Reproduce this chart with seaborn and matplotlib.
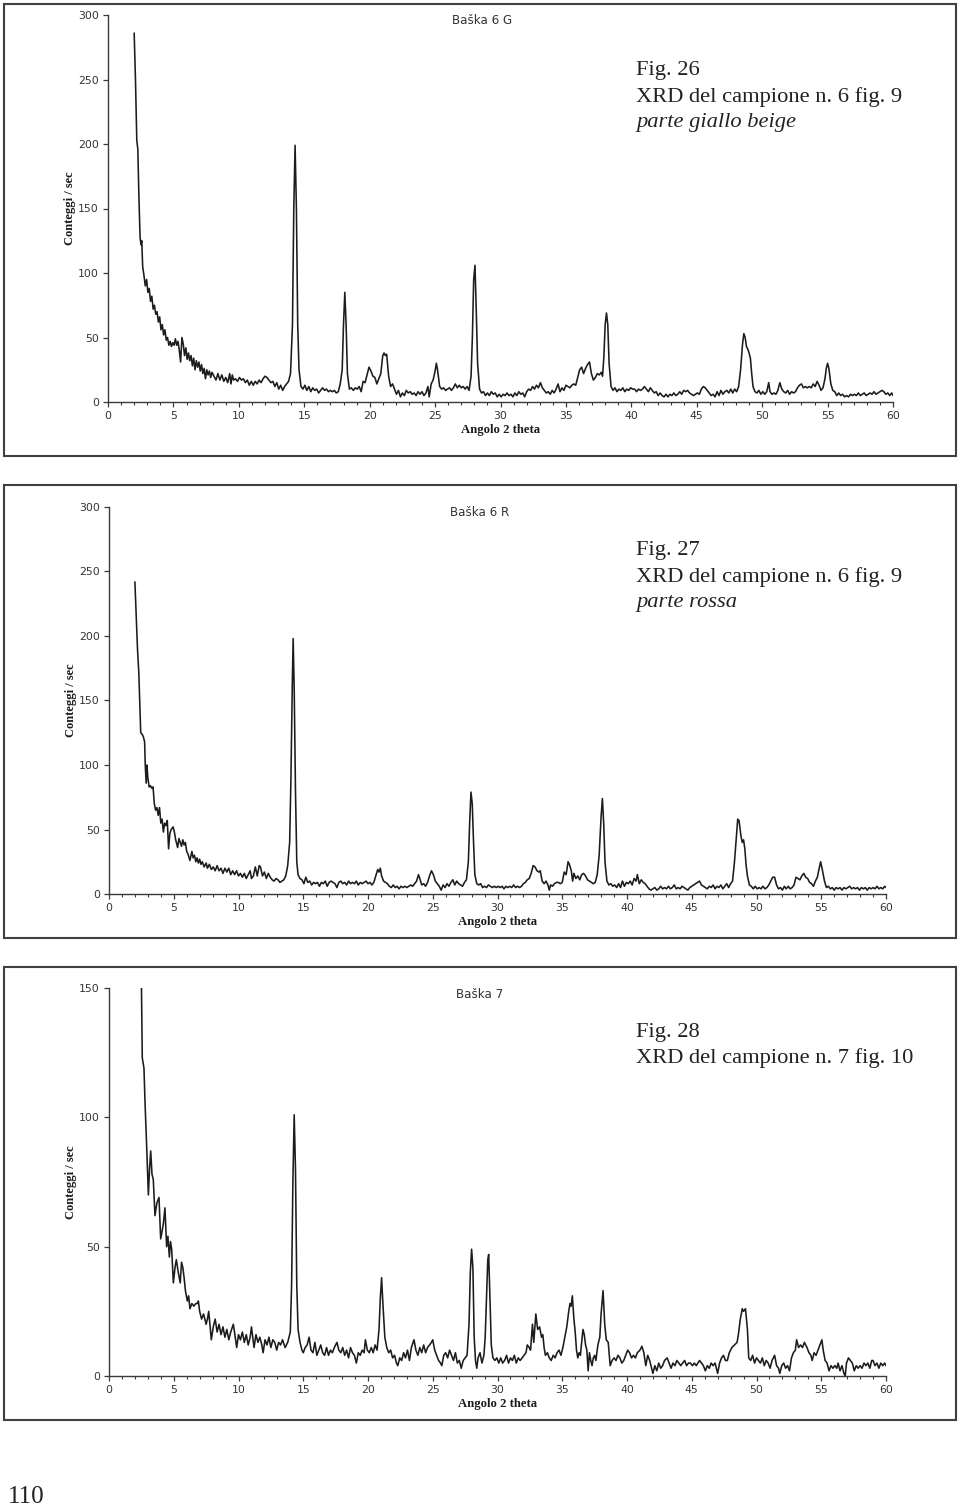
import matplotlib
matplotlib.use("Agg")
import matplotlib.pyplot as plt
from matplotlib.patches import Rectangle
from matplotlib.ticker import MultipleLocator
import pandas as pd
import seaborn as sns

# ---------------- data (angle 2theta, counts/sec) ----------------
BASKA_6G = [
    (2.00, 286), (2.10, 250), (2.20, 203), (2.28, 196), (2.36, 160), (2.45, 128), (2.52, 122), (2.58, 125),
    (2.65, 105), (2.75, 98), (2.85, 90), (2.95, 95), (3.05, 85), (3.15, 88), (3.25, 78), (3.35, 82),
    (3.45, 72), (3.55, 75), (3.65, 68), (3.75, 70), (3.85, 62), (3.95, 66), (4.05, 56), (4.15, 60),
    (4.25, 52), (4.35, 56), (4.45, 48), (4.55, 50), (4.65, 44), (4.75, 47), (4.85, 43), (4.95, 46),
    (5.05, 44), (5.15, 49), (5.25, 44), (5.35, 47), (5.45, 40), (5.55, 31), (5.65, 50), (5.75, 45),
    (5.85, 36), (5.95, 42), (6.05, 33), (6.15, 38), (6.25, 32), (6.35, 36), (6.45, 28), (6.55, 34),
    (6.65, 25), (6.75, 32), (6.85, 27), (6.95, 31), (7.05, 24), (7.15, 29), (7.25, 22), (7.35, 26),
    (7.45, 18), (7.55, 25), (7.65, 21), (7.75, 24), (7.85, 19), (7.95, 23), (8.1, 20), (8.25, 17),
    (8.4, 22), (8.55, 17), (8.7, 21), (8.85, 16), (9.0, 19), (9.15, 15), (9.3, 22), (9.4, 14),
    (9.5, 21), (9.6, 17), (9.75, 18), (9.9, 16), (10.05, 19), (10.2, 17), (10.35, 18), (10.5, 15),
    (10.65, 17), (10.8, 13), (10.95, 16), (11.1, 13), (11.25, 16), (11.4, 14), (11.55, 17), (11.7, 15),
    (11.85, 18), (12.0, 20), (12.15, 19), (12.3, 17), (12.45, 15), (12.6, 16), (12.75, 12), (12.9, 15),
    (13.05, 10), (13.2, 13), (13.35, 9), (13.5, 12), (13.65, 14), (13.8, 16), (13.95, 22), (14.1, 60),
    (14.2, 150), (14.3, 199), (14.4, 150), (14.5, 60), (14.6, 25), (14.75, 12), (14.9, 10), (15.05, 13),
    (15.2, 9), (15.35, 12), (15.5, 8), (15.65, 11), (15.8, 9), (15.95, 10), (16.1, 7), (16.25, 9),
    (16.4, 11), (16.55, 9), (16.7, 10), (16.85, 8), (17.0, 9), (17.15, 8), (17.3, 9), (17.45, 7),
    (17.6, 8), (17.75, 14), (17.9, 25), (18.0, 60), (18.1, 85), (18.2, 60), (18.3, 22), (18.45, 10),
    (18.6, 11), (18.75, 9), (18.9, 11), (19.05, 10), (19.2, 12), (19.35, 8), (19.5, 16), (19.65, 15),
    (19.8, 21), (19.95, 27), (20.1, 24), (20.25, 20), (20.4, 19), (20.55, 14), (20.7, 18), (20.85, 22),
    (21.0, 36), (21.1, 38), (21.2, 36), (21.3, 37), (21.45, 20), (21.6, 12), (21.75, 14), (21.9, 10),
    (22.05, 6), (22.2, 9), (22.35, 4), (22.5, 7), (22.65, 5), (22.8, 9), (22.95, 7), (23.1, 8),
    (23.25, 6), (23.4, 7), (23.55, 5), (23.7, 8), (23.85, 6), (24.0, 8), (24.15, 5), (24.3, 7),
    (24.45, 12), (24.55, 4), (24.7, 14), (24.85, 17), (25.0, 24), (25.1, 30), (25.2, 24), (25.35, 12),
    (25.5, 10), (25.65, 11), (25.8, 9), (25.95, 10), (26.1, 11), (26.25, 9), (26.4, 11), (26.55, 14),
    (26.7, 11), (26.85, 13), (27.0, 11), (27.15, 12), (27.3, 10), (27.45, 12), (27.6, 9), (27.75, 20),
    (27.85, 50), (27.95, 95), (28.05, 106), (28.15, 70), (28.25, 30), (28.4, 10), (28.55, 7), (28.7, 8),
    (28.85, 5), (29.0, 7), (29.15, 5), (29.3, 8), (29.45, 6), (29.6, 7), (29.75, 4), (29.9, 6),
    (30.05, 4), (30.2, 6), (30.35, 5), (30.5, 7), (30.65, 5), (30.8, 6), (30.95, 4), (31.1, 7),
    (31.25, 5), (31.4, 8), (31.55, 6), (31.7, 7), (31.85, 4), (32.0, 8), (32.15, 10), (32.3, 9),
    (32.45, 12), (32.6, 10), (32.75, 13), (32.9, 11), (33.05, 15), (33.2, 11), (33.35, 9), (33.5, 7),
    (33.65, 8), (33.8, 6), (33.95, 9), (34.1, 7), (34.25, 10), (34.4, 14), (34.55, 8), (34.7, 11),
    (34.85, 9), (35.0, 13), (35.15, 12), (35.3, 11), (35.45, 13), (35.6, 14), (35.75, 13), (35.9, 19),
    (36.05, 25), (36.2, 27), (36.35, 22), (36.5, 26), (36.65, 29), (36.8, 31), (36.95, 22), (37.1, 17),
    (37.25, 19), (37.4, 22), (37.55, 21), (37.7, 23), (37.8, 20), (37.9, 35), (38.0, 60), (38.1, 69),
    (38.2, 60), (38.3, 30), (38.45, 12), (38.6, 9), (38.75, 11), (38.9, 8), (39.05, 10), (39.2, 9),
    (39.35, 11), (39.5, 8), (39.65, 10), (39.8, 9), (39.95, 11), (40.1, 10), (40.25, 10), (40.4, 8),
    (40.55, 10), (40.7, 9), (40.85, 10), (41.0, 12), (41.15, 10), (41.3, 8), (41.45, 11), (41.6, 9),
    (41.75, 7), (41.9, 8), (42.05, 5), (42.2, 7), (42.35, 5), (42.5, 4), (42.65, 6), (42.8, 4),
    (42.95, 6), (43.1, 5), (43.25, 7), (43.4, 5), (43.55, 6), (43.7, 8), (43.85, 6), (44.0, 9),
    (44.15, 8), (44.3, 9), (44.45, 7), (44.6, 6), (44.75, 5), (44.9, 6), (45.05, 7), (45.2, 6),
    (45.35, 10), (45.5, 12), (45.65, 11), (45.8, 9), (45.95, 7), (46.1, 5), (46.25, 6), (46.4, 4),
    (46.55, 8), (46.7, 5), (46.85, 9), (47.0, 6), (47.15, 8), (47.3, 9), (47.45, 7), (47.6, 10),
    (47.75, 7), (47.9, 10), (48.05, 8), (48.2, 12), (48.35, 25), (48.5, 45), (48.6, 53), (48.7, 50),
    (48.8, 43), (48.9, 41), (49.0, 38), (49.1, 34), (49.2, 22), (49.3, 12), (49.45, 8), (49.6, 7),
    (49.75, 9), (49.9, 6), (50.05, 8), (50.2, 6), (50.35, 8), (50.5, 15), (50.6, 8), (50.75, 6),
    (50.9, 7), (51.05, 6), (51.2, 9), (51.35, 15), (51.5, 10), (51.65, 8), (51.8, 7), (51.95, 9),
    (52.1, 6), (52.25, 8), (52.4, 7), (52.55, 8), (52.7, 11), (52.85, 13), (53.0, 14), (53.15, 11),
    (53.3, 12), (53.45, 11), (53.6, 12), (53.75, 11), (53.9, 14), (54.05, 12), (54.2, 16), (54.35, 13),
    (54.5, 9), (54.65, 11), (54.8, 18), (54.9, 26), (55.0, 30), (55.1, 26), (55.25, 14), (55.4, 9),
    (55.55, 8), (55.7, 5), (55.85, 7), (56.0, 5), (56.15, 6), (56.3, 4), (56.45, 5), (56.6, 4),
    (56.75, 6), (56.9, 5), (57.05, 6), (57.2, 5), (57.35, 7), (57.5, 5), (57.65, 6), (57.8, 7),
    (57.95, 5), (58.1, 6), (58.25, 7), (58.4, 6), (58.55, 8), (58.7, 6), (58.85, 7), (59.0, 8),
    (59.15, 9), (59.3, 8), (59.45, 6), (59.6, 7), (59.75, 5), (59.9, 7), (60.0, 5),
]

BASKA_6R = [
    (2.0, 242), (2.1, 215), (2.2, 190), (2.3, 172), (2.4, 140), (2.45, 125), (2.55, 124), (2.65, 122),
    (2.75, 118), (2.8, 100), (2.87, 86), (2.93, 100), (3.0, 90), (3.1, 83), (3.2, 84), (3.3, 82),
    (3.4, 83), (3.5, 70), (3.6, 65), (3.7, 67), (3.8, 61), (3.9, 67), (4.0, 55), (4.1, 58),
    (4.2, 48), (4.3, 55), (4.4, 53), (4.5, 57), (4.6, 35), (4.7, 47), (4.8, 50), (4.95, 52),
    (5.05, 48), (5.15, 42), (5.3, 36), (5.4, 43), (5.5, 40), (5.6, 37), (5.7, 42), (5.8, 38),
    (5.9, 40), (6.0, 33), (6.1, 31), (6.25, 26), (6.4, 33), (6.5, 28), (6.6, 30), (6.7, 25),
    (6.8, 28), (6.9, 24), (7.0, 27), (7.1, 23), (7.2, 25), (7.35, 21), (7.5, 24), (7.6, 20),
    (7.75, 23), (7.9, 19), (8.05, 21), (8.2, 18), (8.35, 22), (8.5, 18), (8.65, 20), (8.8, 16),
    (8.95, 20), (9.1, 17), (9.25, 20), (9.4, 15), (9.55, 18), (9.7, 15), (9.85, 18), (10.0, 14),
    (10.15, 16), (10.3, 13), (10.45, 16), (10.6, 12), (10.75, 15), (10.9, 18), (11.0, 12), (11.15, 14),
    (11.3, 21), (11.45, 14), (11.6, 22), (11.7, 21), (11.85, 14), (12.0, 17), (12.15, 12), (12.3, 16),
    (12.45, 13), (12.6, 11), (12.75, 10), (12.9, 12), (13.05, 11), (13.2, 9), (13.35, 10), (13.5, 11),
    (13.65, 14), (13.8, 22), (13.95, 40), (14.05, 90), (14.15, 160), (14.22, 198), (14.3, 160), (14.4, 80),
    (14.5, 25), (14.6, 15), (14.75, 12), (14.9, 11), (15.05, 8), (15.2, 13), (15.35, 9), (15.5, 10),
    (15.65, 7), (15.8, 9), (15.95, 8), (16.1, 9), (16.25, 6), (16.4, 9), (16.55, 8), (16.7, 10),
    (16.85, 6), (17.0, 9), (17.15, 10), (17.3, 9), (17.45, 8), (17.6, 5), (17.75, 9), (17.9, 10),
    (18.05, 8), (18.2, 9), (18.35, 7), (18.5, 10), (18.65, 8), (18.8, 9), (18.95, 8), (19.1, 10),
    (19.25, 7), (19.4, 9), (19.55, 8), (19.7, 9), (19.85, 10), (20.0, 8), (20.15, 9), (20.3, 7),
    (20.45, 9), (20.6, 14), (20.75, 19), (20.85, 17), (20.95, 20), (21.05, 14), (21.2, 10), (21.35, 9),
    (21.5, 8), (21.65, 6), (21.8, 5), (21.95, 7), (22.1, 5), (22.25, 6), (22.4, 4), (22.55, 6),
    (22.7, 5), (22.85, 6), (23.0, 5), (23.15, 6), (23.3, 7), (23.45, 6), (23.6, 8), (23.75, 10),
    (23.9, 15), (24.0, 12), (24.15, 7), (24.3, 8), (24.45, 6), (24.6, 9), (24.75, 14), (24.9, 18),
    (25.05, 15), (25.2, 10), (25.35, 8), (25.5, 6), (25.65, 3), (25.8, 7), (25.95, 5), (26.1, 8),
    (26.25, 6), (26.4, 9), (26.55, 11), (26.7, 7), (26.85, 10), (27.0, 8), (27.15, 7), (27.3, 6),
    (27.45, 9), (27.6, 11), (27.75, 25), (27.85, 55), (27.95, 79), (28.05, 70), (28.15, 40), (28.25, 15),
    (28.4, 8), (28.55, 7), (28.7, 8), (28.85, 5), (29.0, 6), (29.15, 5), (29.3, 7), (29.45, 6),
    (29.6, 5), (29.75, 6), (29.9, 5), (30.05, 6), (30.2, 5), (30.35, 6), (30.5, 4), (30.65, 6),
    (30.8, 5), (30.95, 6), (31.1, 5), (31.25, 7), (31.4, 5), (31.55, 6), (31.7, 5), (31.85, 6),
    (32.0, 8), (32.15, 9), (32.3, 11), (32.45, 12), (32.6, 16), (32.75, 22), (32.9, 21), (33.05, 18),
    (33.2, 17), (33.3, 18), (33.45, 10), (33.6, 8), (33.75, 10), (33.9, 7), (34.0, 3), (34.1, 7),
    (34.25, 6), (34.4, 8), (34.55, 9), (34.7, 9), (34.85, 8), (35.0, 9), (35.15, 17), (35.3, 15),
    (35.45, 25), (35.55, 23), (35.7, 18), (35.8, 10), (35.9, 16), (36.05, 12), (36.2, 14), (36.35, 11),
    (36.5, 15), (36.65, 16), (36.8, 14), (36.95, 11), (37.1, 10), (37.25, 9), (37.4, 8), (37.55, 9),
    (37.7, 15), (37.85, 30), (38.0, 60), (38.1, 74), (38.2, 55), (38.3, 25), (38.45, 10), (38.6, 7),
    (38.75, 8), (38.9, 6), (39.05, 7), (39.2, 5), (39.35, 8), (39.5, 5), (39.65, 10), (39.8, 6),
    (39.95, 9), (40.1, 8), (40.25, 10), (40.4, 7), (40.55, 12), (40.7, 10), (40.8, 15), (40.95, 8),
    (41.1, 11), (41.25, 9), (41.4, 8), (41.55, 6), (41.7, 4), (41.85, 3), (42.0, 4), (42.15, 5),
    (42.3, 3), (42.45, 4), (42.6, 6), (42.75, 4), (42.9, 5), (43.05, 4), (43.2, 6), (43.35, 4),
    (43.5, 5), (43.65, 7), (43.8, 4), (43.95, 5), (44.1, 4), (44.25, 6), (44.4, 5), (44.55, 4),
    (44.7, 3), (44.85, 5), (45.0, 6), (45.15, 7), (45.3, 8), (45.45, 9), (45.6, 10), (45.75, 7),
    (45.9, 6), (46.05, 5), (46.2, 4), (46.35, 6), (46.5, 5), (46.65, 7), (46.8, 4), (46.95, 6),
    (47.1, 5), (47.25, 7), (47.4, 4), (47.55, 6), (47.7, 8), (47.85, 5), (48.0, 8), (48.15, 10),
    (48.3, 25), (48.45, 45), (48.55, 58), (48.65, 57), (48.8, 45), (48.9, 40), (49.0, 42), (49.1, 35),
    (49.2, 22), (49.3, 14), (49.45, 7), (49.6, 6), (49.75, 4), (49.9, 6), (50.05, 4), (50.2, 5),
    (50.35, 4), (50.5, 6), (50.65, 4), (50.8, 5), (50.95, 7), (51.1, 10), (51.25, 13), (51.4, 13),
    (51.55, 7), (51.7, 4), (51.85, 5), (52.0, 3), (52.15, 6), (52.3, 4), (52.45, 6), (52.6, 4),
    (52.75, 5), (52.9, 7), (53.05, 13), (53.2, 12), (53.35, 11), (53.5, 14), (53.65, 16), (53.8, 13),
    (53.95, 12), (54.1, 9), (54.25, 8), (54.4, 6), (54.55, 10), (54.7, 13), (54.8, 18), (54.95, 25),
    (55.1, 18), (55.25, 10), (55.4, 5), (55.55, 6), (55.7, 4), (55.85, 5), (56.0, 3), (56.15, 5),
    (56.3, 4), (56.45, 5), (56.6, 3), (56.75, 5), (56.9, 4), (57.05, 5), (57.2, 6), (57.35, 4),
    (57.5, 5), (57.65, 4), (57.8, 5), (57.95, 3), (58.1, 5), (58.25, 4), (58.4, 5), (58.55, 3),
    (58.7, 5), (58.85, 4), (59.0, 5), (59.15, 4), (59.3, 6), (59.45, 4), (59.6, 5), (59.75, 4),
    (59.9, 6), (60.0, 5),
]

BASKA_7 = [
    (2.45, 175), (2.57, 123), (2.7, 119), (2.78, 106), (2.9, 90), (3.04, 70), (3.13, 80), (3.22, 87),
    (3.32, 78), (3.42, 76), (3.55, 62), (3.7, 67), (3.86, 69), (3.99, 53), (4.1, 56), (4.2, 59),
    (4.32, 65), (4.45, 50), (4.55, 54), (4.66, 46), (4.75, 52), (4.84, 49), (4.97, 36), (5.1, 42),
    (5.2, 45), (5.35, 40), (5.5, 36), (5.6, 44), (5.7, 42), (5.8, 38), (5.9, 33), (6.05, 29),
    (6.15, 31), (6.25, 26), (6.4, 28), (6.55, 27), (6.7, 28), (6.8, 28), (6.9, 29), (7.0, 25),
    (7.15, 22), (7.3, 24), (7.5, 20), (7.6, 22), (7.7, 25), (7.9, 14), (8.05, 19), (8.2, 22),
    (8.35, 17), (8.5, 20), (8.65, 16), (8.8, 19), (8.95, 15), (9.1, 18), (9.25, 14), (9.4, 17),
    (9.6, 20), (9.72, 16), (9.86, 11), (10.0, 16), (10.15, 14), (10.3, 17), (10.45, 13), (10.6, 16),
    (10.75, 12), (10.9, 15), (11.0, 19), (11.1, 15), (11.2, 11), (11.35, 16), (11.5, 13), (11.65, 15),
    (11.8, 12), (11.9, 9), (12.05, 14), (12.2, 12), (12.35, 15), (12.5, 11), (12.65, 14), (12.8, 13),
    (12.95, 10), (13.1, 13), (13.25, 12), (13.4, 14), (13.6, 11), (13.8, 13), (14.0, 17), (14.1, 35),
    (14.2, 75), (14.3, 101), (14.4, 80), (14.5, 35), (14.6, 18), (14.75, 13), (14.9, 10), (15.0, 9),
    (15.15, 11), (15.3, 12), (15.45, 15), (15.6, 10), (15.75, 9), (15.9, 13), (16.05, 8), (16.2, 10),
    (16.35, 12), (16.5, 9), (16.65, 8), (16.8, 11), (16.95, 8), (17.1, 10), (17.25, 9), (17.4, 11),
    (17.6, 13), (17.75, 10), (17.9, 9), (18.05, 11), (18.2, 8), (18.35, 10), (18.5, 7), (18.65, 11),
    (18.8, 9), (18.95, 8), (19.1, 5), (19.25, 9), (19.4, 8), (19.55, 10), (19.7, 9), (19.8, 14),
    (19.95, 10), (20.1, 9), (20.25, 11), (20.4, 9), (20.55, 12), (20.7, 10), (20.85, 18), (20.95, 30),
    (21.05, 38), (21.15, 28), (21.3, 15), (21.45, 11), (21.6, 9), (21.75, 10), (21.9, 7), (22.05, 8),
    (22.2, 5), (22.3, 4), (22.45, 7), (22.6, 6), (22.75, 9), (22.9, 7), (23.05, 10), (23.2, 6),
    (23.35, 11), (23.55, 14), (23.7, 10), (23.85, 8), (24.0, 11), (24.15, 9), (24.3, 12), (24.45, 9),
    (24.6, 11), (24.75, 12), (24.9, 13), (25.0, 14), (25.15, 10), (25.3, 8), (25.45, 6), (25.6, 5),
    (25.7, 4), (25.85, 8), (26.0, 9), (26.15, 7), (26.3, 10), (26.45, 8), (26.6, 6), (26.75, 9),
    (26.9, 5), (27.05, 6), (27.2, 3), (27.35, 6), (27.5, 7), (27.65, 8), (27.8, 20), (27.9, 40),
    (28.0, 49), (28.1, 42), (28.2, 15), (28.3, 6), (28.4, 3), (28.5, 7), (28.65, 9), (28.8, 5),
    (28.95, 8), (29.05, 15), (29.15, 30), (29.25, 45), (29.32, 47), (29.42, 30), (29.52, 12), (29.65, 7),
    (29.8, 6), (29.95, 7), (30.1, 5), (30.25, 7), (30.4, 5), (30.55, 6), (30.7, 8), (30.85, 5),
    (31.0, 7), (31.15, 6), (31.3, 8), (31.45, 5), (31.6, 7), (31.75, 6), (31.9, 7), (32.05, 8),
    (32.2, 9), (32.3, 12), (32.45, 11), (32.55, 10), (32.7, 20), (32.8, 13), (32.96, 24), (33.1, 18),
    (33.25, 19), (33.4, 15), (33.5, 16), (33.6, 11), (33.7, 8), (33.85, 9), (34.0, 7), (34.15, 6),
    (34.3, 8), (34.45, 7), (34.6, 9), (34.75, 10), (34.9, 8), (35.05, 11), (35.2, 15), (35.35, 19),
    (35.5, 25), (35.6, 28), (35.68, 27), (35.78, 31), (35.9, 22), (36.0, 17), (36.1, 10), (36.2, 7),
    (36.3, 9), (36.4, 8), (36.5, 13), (36.6, 18), (36.7, 16), (36.8, 12), (36.9, 10), (37.0, 2),
    (37.1, 9), (37.2, 6), (37.3, 4), (37.4, 7), (37.5, 8), (37.6, 6), (37.75, 12), (37.9, 15),
    (38.0, 24), (38.15, 33), (38.28, 20), (38.4, 14), (38.55, 13), (38.7, 4), (38.85, 6), (39.0, 7),
    (39.15, 6), (39.3, 8), (39.45, 7), (39.6, 5), (39.75, 6), (39.9, 8), (40.05, 10), (40.2, 9),
    (40.35, 7), (40.5, 8), (40.65, 7), (40.8, 9), (41.0, 10), (41.15, 11.5), (41.3, 9), (41.45, 4),
    (41.6, 8), (41.75, 6), (41.9, 3), (42.0, 1), (42.15, 4), (42.3, 2), (42.45, 5), (42.6, 3),
    (42.75, 4), (42.9, 6), (43.1, 7), (43.25, 5), (43.4, 3), (43.55, 5), (43.7, 4), (43.85, 6),
    (44.0, 5), (44.15, 4), (44.3, 5), (44.45, 6), (44.6, 4), (44.75, 5), (44.9, 5), (45.05, 4),
    (45.2, 5), (45.35, 4), (45.6, 6), (45.75, 5), (45.9, 4), (46.05, 2), (46.2, 4), (46.35, 3),
    (46.5, 5), (46.65, 4), (46.8, 5), (47.0, 1), (47.15, 5), (47.3, 7), (47.45, 8), (47.6, 6),
    (47.75, 6), (47.9, 9), (48.1, 11), (48.3, 12), (48.5, 13), (48.6, 16), (48.75, 22), (48.9, 26),
    (49.0, 25), (49.15, 26), (49.3, 18), (49.4, 7), (49.55, 6), (49.7, 8), (49.85, 5), (50.0, 7),
    (50.15, 6), (50.3, 5), (50.45, 7), (50.6, 4), (50.75, 6), (50.9, 5), (51.05, 3), (51.2, 6),
    (51.4, 8), (51.55, 4), (51.7, 3), (51.8, 1), (51.95, 4), (52.1, 5), (52.25, 3), (52.4, 4),
    (52.55, 2), (52.7, 7), (52.85, 9), (53.0, 10), (53.1, 14), (53.25, 11), (53.4, 12), (53.55, 11),
    (53.7, 13), (53.9, 11), (54.05, 9), (54.2, 8), (54.3, 6), (54.45, 9), (54.6, 8), (54.75, 10),
    (54.9, 12), (55.05, 14), (55.15, 10), (55.3, 6), (55.45, 5), (55.6, 2), (55.75, 4), (55.9, 3),
    (56.05, 4), (56.2, 3), (56.3, 5), (56.45, 2), (56.6, 4), (56.75, 1), (56.85, 0), (56.95, 5),
    (57.1, 7), (57.25, 6), (57.4, 5), (57.55, 2), (57.7, 4), (57.85, 3), (58.0, 4), (58.15, 3),
    (58.3, 5), (58.45, 4), (58.6, 5), (58.75, 3), (58.9, 6), (59.0, 6), (59.15, 4), (59.3, 5),
    (59.45, 3), (59.6, 5), (59.75, 4), (59.9, 5), (60.0, 4),
]

TITLES = ["Baška 6 G", "Baška 6 R", "Baška 7"]
CAPTIONS = [
    ["Fig. 26", "XRD del campione n. 6 fig. 9", "parte giallo beige"],
    ["Fig. 27", "XRD del campione n. 6 fig. 9", "parte rossa"],
    ["Fig. 28", "XRD del campione n. 7 fig. 10"],
]
Y_MAX = [300, 300, 150]
Y_STEP = [50, 50, 50]
X_LABEL = "Angolo 2 theta"
Y_LABEL = "Conteggi / sec"
PAGE_NUMBER = "110"

# ---------------- layout (pixels of the 960 x 1509 page) ----------------
W, H = 960, 1509
AX_PX = [(108, 15, 893, 402), (109, 507, 886, 894), (109, 988, 886, 1376)]
BOX_PX = [(4, 4, 956, 456), (4, 485, 956, 938), (4, 967, 956, 1420)]
TITLE_PX = [(482, 20), (480, 513), (480, 995)]
CAPTION_PX = [(636, [70, 97, 123]), (636, [551, 577, 603]), (636, [1033, 1058])]

sns.set_theme(style="white")
plt.rcParams["font.family"] = ["DejaVu Sans"]

fig = plt.figure(figsize=(W / 100, H / 100), dpi=100)
fig.patch.set_facecolor("white")

INK = "#1c1c1c"
GREY = "#3a3a3a"
SERIF = ["Liberation Serif", "DejaVu Serif"]

for i, data in enumerate([BASKA_6G, BASKA_6R, BASKA_7]):
    df = pd.DataFrame(data, columns=["angle", "counts"])
    l, t, r, b = AX_PX[i]
    ax = fig.add_axes([l / W, 1 - b / H, (r - l) / W, (b - t) / H])
    sns.lineplot(data=df, x="angle", y="counts", ax=ax, color=INK, lw=1.15,
                 estimator=None, sort=False)
    ax.set_xlim(0, 60)
    ax.set_ylim(0, Y_MAX[i])
    ax.set_facecolor("none")
    for s in ["top", "right"]:
        ax.spines[s].set_visible(False)
    for s in ["left", "bottom"]:
        ax.spines[s].set_color(GREY)
        ax.spines[s].set_linewidth(1.0)
    ax.xaxis.set_major_locator(MultipleLocator(5))
    ax.xaxis.set_minor_locator(MultipleLocator(1))
    ax.yaxis.set_major_locator(MultipleLocator(Y_STEP[i]))
    ax.tick_params(axis="both", which="major", direction="out", length=3.5, width=0.9,
                   color=GREY, labelsize=7.8, labelcolor="#333333", pad=3,
                   bottom=True, left=True)
    ax.tick_params(axis="x", which="minor", direction="out", length=2.2, width=0.8,
                   color=GREY, bottom=True)
    ax.tick_params(axis="y", which="minor", left=False)
    ax.set_xlabel(X_LABEL, fontfamily=SERIF, fontweight="bold", fontsize=9.2, color=INK)
    ax.set_ylabel(Y_LABEL, fontfamily=SERIF, fontweight="bold", fontsize=9.0, color=INK)
    hpx = b - t
    ax.xaxis.set_label_coords(0.5, -28 / hpx)
    ax.xaxis.label.set_verticalalignment("center")
    ax.yaxis.set_label_coords(-38 / (r - l), 0.5)
    ax.yaxis.label.set_verticalalignment("center")

    # frame around the panel
    bl, bt, br, bb = BOX_PX[i]
    fig.add_artist(Rectangle((bl / W, 1 - bb / H), (br - bl) / W, (bb - bt) / H,
                             transform=fig.transFigure, fill=False,
                             edgecolor="#404040", lw=1.5))
    # sample title
    tx, ty = TITLE_PX[i]
    fig.text(tx / W, 1 - ty / H, TITLES[i], ha="center", va="center",
             fontsize=8.6, color="#333333")
    # caption
    cx, cys = CAPTION_PX[i]
    for j, line in enumerate(CAPTIONS[i]):
        fig.text(cx / W, 1 - cys[j] / H, line, ha="left", va="center",
                 fontfamily=SERIF, fontsize=16.2, color="#222222",
                 fontstyle="italic" if j == 2 else "normal")

fig.text(8 / W, 1 - 1497 / H, PAGE_NUMBER, ha="left", va="center",
         fontfamily=SERIF, fontsize=18, color="#222222")

fig.savefig("out.png", dpi=100, facecolor="white")
